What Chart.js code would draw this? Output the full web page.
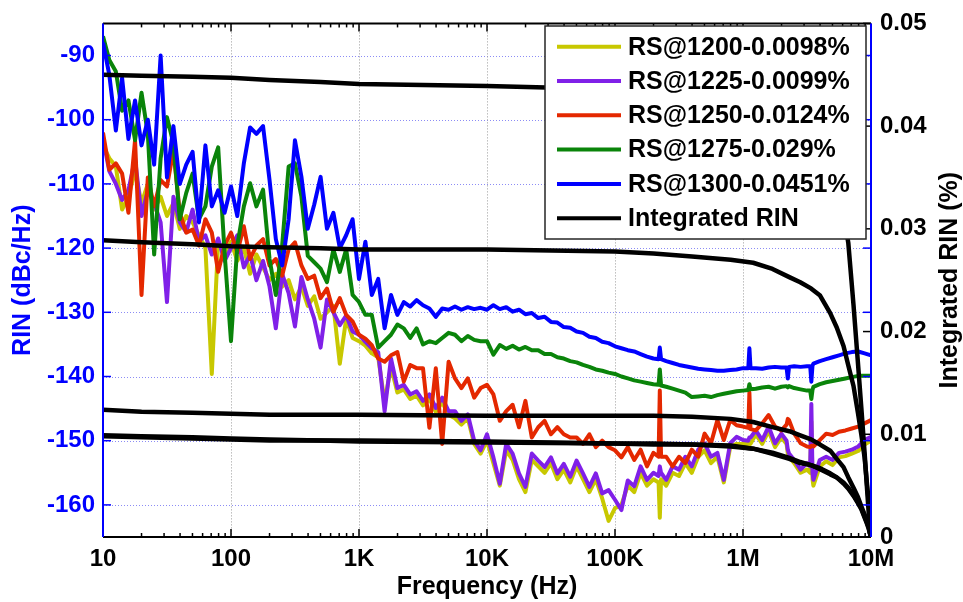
<!DOCTYPE html>
<html>
<head>
<meta charset="utf-8">
<title>RIN spectra</title>
<script src="https://cdn.jsdelivr.net/npm/chart.js@4.4.1/dist/chart.umd.min.js"></script>
<style>
  html, body { margin: 0; padding: 0; background: #fff; }
  canvas { display: block; }
</style>
</head>
<body>
<canvas id="rinChart" width="963" height="602"></canvas>
<script>
// frequency points (Hz) of the measured spectra
const freq = [
  10, 11.2, 12.6, 14.1, 15.8, 17.8, 20, 22.4, 25.1, 28.2, 31.6, 35.5, 39.8, 44.7, 50.1, 56.2, 63.1, 70.8, 79.4, 89.1,
  100, 112, 126, 141, 158, 178, 200, 224, 251, 282, 316, 355, 398, 447, 501, 562, 631, 708, 794, 891,
  1000, 1122, 1259, 1413, 1585, 1778, 1995, 2239, 2512, 2818, 3162, 3548, 3981, 4467, 5012, 5623, 6310, 7079, 7943, 8913,
  1e4, 11220, 12590, 14130, 15850, 17780, 19950, 22390, 25120, 28180, 31620, 35480, 39810, 44670, 50120, 56230, 63100, 70790, 79430, 89130,
  1e5, 112200, 125900, 141300, 158500, 177800, 199500, 219000, 223900, 229000, 251200, 281800, 316200, 354800, 398100, 446700, 501200, 562300, 631000, 707900, 794300, 891300,
  1e6, 1100000, 1122000, 1145000, 1259000, 1413000, 1585000, 1778000, 1995000, 2190000, 2239000, 2290000, 2512000, 2818000, 3162000, 3350000, 3420000, 3490000, 3548000, 3981000, 4467000, 5012000, 5623000, 6310000, 7079000, 7943000, 8913000, 1e7
];

// RIN (dBc/Hz)
const rin1200 = [
  -104, -106, -107.3, -114, -112, -108, -113, -110, -114, -112, -115, -113, -117, -115, -116, -118, -120, -139.6, -119, -121,
  -119, -122, -120, -124, -121, -123, -125, -124, -126, -125, -128, -126, -129, -127.5, -131, -130, -129, -138, -131, -134,
  -134.5, -135.2, -136.4, -137, -144, -138.5, -142.5, -142, -143.5, -143, -144.5, -143.5, -145.5, -144, -146, -146.5, -147.5, -146.5, -150.5, -152,
  -150, -153.5, -157, -151.5, -153, -156, -158, -153, -154, -155, -153.5, -156, -154.5, -156.5, -154, -156, -158, -156, -159, -162.5,
  -160.5, -160, -157, -158, -155, -157, -156, -156.5, -162, -156, -157, -155, -155.5, -153.5, -155, -152.5, -151.5, -153.5, -152.5, -156.5, -151, -150.5,
  -150.5, -150.5, -150.5, -150.5, -149, -150.5, -148.5, -151, -149.5, -150.5, -152, -152.5, -153.5, -155, -154.5, -155, -147, -156, -157, -154, -153.2, -153.8, -152.6, -152.4, -152, -151.6, -150.6, -150
];
const rin1225 = [
  -103, -108, -110, -112.5, -111, -106, -115, -111, -113, -116, -128.4, -112, -116, -117.5, -114, -119, -118, -121, -118.5, -122,
  -120, -118, -123, -121, -125, -122, -126, -132.5, -124, -127, -132.2, -124.5, -128, -131, -135.5, -128, -130, -132, -130.5, -133,
  -133.5, -134.6, -135.6, -136.2, -145.4, -137.2, -141.8, -141.3, -142.8, -142.3, -143.8, -142.8, -144.9, -143.3, -145.4, -145.4, -146.9, -145.9, -150, -151.5,
  -149, -152.6, -156.7, -150.5, -152, -155.1, -157.2, -152, -153.1, -154.1, -152.6, -155.1, -153.6, -155.6, -153.1, -155.1, -157.2, -155.1, -158.2, -157.7,
  -159.2, -160.8, -156.2, -157.1, -154, -156.1, -155, -155.5, -154, -155, -156.1, -154, -154.5, -152.5, -154, -151.4, -150.4, -152.5, -151.9, -156.1, -150.4, -149.4,
  -149.9, -150, -149.5, -149.5, -148.4, -149.9, -147.8, -150.4, -148.9, -150, -151.4, -152, -153, -154.5, -153.5, -154, -144.3, -155, -156.1, -153, -152.5, -153, -151.9, -151.7, -151.4, -150.9, -149.9, -149.4
];
const rin1250 = [
  -102, -107.8, -106.8, -108.4, -114.5, -103.2, -127.3, -109, -113.5, -109.4, -110.4, -104.8, -114.5, -117.6, -117.1, -119.6, -115.5, -117.6, -123.7, -119.6,
  -117.6, -120.7, -116.6, -121.7, -119.6, -118.6, -122.7, -121.7, -124.3, -120.2, -119.1, -122.7, -124.8, -124.3, -127.8, -126.3, -129.9, -127.8, -130.4, -131.4,
  -133.5, -134.1, -135.1, -137.2, -137.7, -136.7, -136.2, -140.8, -138.2, -138.7, -138.7, -148, -138.7, -150.5, -137.7, -140.3, -141.8, -140.3, -143.3, -141.8,
  -141.3, -142.8, -146.9, -145.4, -144.4, -147.9, -143.8, -149.5, -147.9, -146.9, -149, -147.9, -149, -149.5, -149.5, -150.5, -149, -151, -150, -151,
  -151.5, -152.6, -151, -153, -151.4, -154, -151.9, -152.5, -142.2, -152.5, -152.5, -154, -152.5, -153.5, -151.4, -152.5, -148.9, -150.4, -146.8, -149.9, -146.8, -147.6,
  -147.8, -148, -142.5, -148.2, -148.4, -147.3, -146, -147.8, -148.4, -147.5, -146.6, -146.8, -148.9, -150.4, -150.9, -151, -150.8, -150.8, -150.9, -149.9, -148.9, -149.1, -148.6, -148.4, -148.1, -147.8, -147.3, -146.8
];
const rin1275 = [
  -87, -90.7, -92.5, -98.6, -97, -103.2, -95.8, -102.2, -121, -106, -99.6, -103.7, -115.5, -111.4, -108.4, -115.5, -113.5, -107.3, -104.3, -120.7,
  -134.5, -119.6, -113.5, -109.9, -113.5, -110.9, -121.7, -127.3, -119.6, -107.3, -106.8, -112, -121.2, -122.2, -123.2, -125.3, -120.2, -123.7, -120.2, -127.3,
  -128.4, -130.4, -130.4, -135.5, -134.5, -133.5, -131.9, -132.5, -134, -132.5, -135, -134.5, -134.8, -134, -133.2, -133.5, -134.5, -133.7, -134.3, -134.5,
  -134.5, -136.6, -135.1, -135.7, -135.2, -135.8, -135.4, -135.9, -135.9, -136.5, -136.5, -137.0, -137.2, -137.6, -137.8, -138.2, -138.5, -138.9, -139.1, -139.4,
  -139.6, -140.0, -140.3, -140.6, -140.8, -141.0, -141.2, -141.3, -138.9, -141.4, -141.6, -141.9, -142.2, -142.5, -143.2, -143.1, -143.0, -143.2, -142.9, -142.7, -142.5, -142.3,
  -142.2, -142.1, -141.2, -142.0, -141.9, -141.7, -141.6, -141.9, -141.6, -141.5, -141.7, -141.5, -141.8, -142.0, -142.2, -142.2, -143.5, -142.1, -141.6, -141.2, -140.9, -140.7, -140.5, -140.3, -140.1, -139.9, -139.9, -139.9
];
const rin1300 = [
  -88, -93, -101.7, -93.5, -103, -97, -104, -100, -107, -90, -109, -101, -110, -107, -105, -116, -104, -113.5, -111, -114.5,
  -110.4, -115, -106.8, -101.2, -102.2, -101, -109.4, -118.6, -122.7, -115.5, -103.2, -108.9, -117, -113.2, -108.9, -117, -114.5, -120, -118, -115.5,
  -124.8, -119, -127.3, -124.8, -132.5, -127.3, -130.4, -128.4, -129.1, -128.1, -128.9, -129.4, -130.7, -129.4, -129.6, -129.1, -129.6, -129.2, -129.5, -129.3,
  -129.6, -128.9, -129.5, -129.2, -129.9, -129.6, -130.3, -130.1, -130.9, -130.7, -131.5, -131.6, -132.3, -132.4, -133.0, -133.2, -133.8, -134.0, -134.6, -134.8,
  -135.3, -135.6, -135.9, -136.1, -136.5, -136.9, -137.2, -137.3, -135.5, -137.3, -137.6, -137.9, -138.2, -138.4, -138.6, -138.8, -138.9, -139.0, -139.1, -139.1, -139.0, -138.9,
  -138.7, -138.7, -135.6, -138.7, -138.7, -138.8, -138.6, -138.5, -138.6, -138.6, -140.3, -138.5, -138.4, -138.5, -138.4, -138.4, -140.8, -138.3, -138.0, -137.6, -137.3, -137.0, -136.7, -136.4, -136.2, -136.1, -136.4, -136.7
];

// integrated RIN (%) from f up to 10 MHz
const intFreq = [10, 20, 50, 100, 200, 500, 1e3, 1e4, 1e5, 2e5, 4e5, 8e5, 1.2e6, 1.7e6, 2.3e6, 2.8e6, 3.4e6, 4e6, 4.8e6, 5.4e6, 6.1e6, 6.65e6, 7.3e6, 7.9e6, 8.4e6, 8.9e6, 9.3e6, 9.6e6, 9.8e6, 1e7];
const int1200 = [0.0098, 0.0097, 0.0096, 0.0095, 0.0094, 0.0094, 0.0093, 0.0092, 0.0091, 0.0090, 0.0090, 0.0088, 0.0086, 0.0081, 0.0076, 0.0072, 0.0070, 0.0066, 0.0061, 0.0058, 0.0052, 0.0047, 0.0040, 0.0033, 0.0027, 0.0019, 0.0013, 0.0008, 0.0004, 0];
const int1225 = [0.0099, 0.0098, 0.0097, 0.0096, 0.0095, 0.0094, 0.0094, 0.0093, 0.0091, 0.0091, 0.0090, 0.0089, 0.0086, 0.0082, 0.0077, 0.0073, 0.0070, 0.0067, 0.0062, 0.0058, 0.0053, 0.0048, 0.0041, 0.0034, 0.0028, 0.0020, 0.0014, 0.0009, 0.0004, 0];
const int1250 = [0.0124, 0.0122, 0.0121, 0.0120, 0.0119, 0.0119, 0.0119, 0.0118, 0.0118, 0.0118, 0.0117, 0.0115, 0.0112, 0.0107, 0.0103, 0.0099, 0.0095, 0.0090, 0.0084, 0.0076, 0.0068, 0.0058, 0.0048, 0.0039, 0.0030, 0.0022, 0.0016, 0.0011, 0.0006, 0];
const int1275 = [0.0289, 0.0287, 0.0285, 0.0283, 0.0282, 0.0281, 0.0280, 0.0280, 0.0278, 0.0276, 0.0273, 0.0270, 0.0267, 0.0261, 0.0253, 0.0248, 0.0242, 0.0235, 0.0218, 0.0204, 0.0186, 0.0167, 0.0147, 0.0121, 0.0100, 0.0078, 0.0052, 0.0034, 0.0022, 0];
const int1300 = [0.0450, 0.0449, 0.0448, 0.0447, 0.0445, 0.0443, 0.0441, 0.0439, 0.0436, 0.0435, 0.0433, 0.0429, 0.0425, 0.0418, 0.0410, 0.0402, 0.0392, 0.0380, 0.0362, 0.0345, 0.0315, 0.0286, 0.0226, 0.0170, 0.0126, 0.0083, 0.0048, 0.0023, 0.0004, 0];

const xTickVals = [10, 100, 1e3, 1e4, 1e5, 1e6, 1e7];
const xTickLabels = ["10", "100", "1K", "10K", "100K", "1M", "10M"];
const minorSteps = [2, 3, 4, 5, 6, 7, 8, 9];
const rinTicks = [-160, -150, -140, -130, -120, -110, -100, -90];
const intTicks = [0, 0.01, 0.02, 0.03, 0.04, 0.05];
const intTickLabels = ["0", "0.01", "0.02", "0.03", "0.04", "0.05"];
const rightTitle = "Integrated RIN (%)";

const spectra = [
    { label: "RS@1200-0.0098%", color: "#c8c800", rin: rin1200, integ: int1200 },
    { label: "RS@1225-0.0099%", color: "#8020e8", rin: rin1225, integ: int1225 },
    { label: "RS@1250-0.0124%", color: "#e42800", rin: rin1250, integ: int1250 },
    { label: "RS@1275-0.029%", color: "#0a840a", rin: rin1275, integ: int1275 },
    { label: "RS@1300-0.0451%", color: "#0000ff", rin: rin1300, integ: int1300 }
];
const legendItems = spectra.map(s => ({ label: s.label, color: s.color }))
    .concat([{ label: "Integrated RIN", color: "#000000" }]);

// first dataset is painted last, so the black curves come first
const datasets = [];
spectra.slice().reverse().forEach(s => {
    datasets.push({
        label: "Integrated RIN",
        data: intFreq.map((f, i) => ({ x: f, y: s.integ[i] })),
        yAxisID: "y2",
        borderColor: "#000000",
        borderWidth: 4.5
    });
});
spectra.slice().reverse().forEach(s => {
    datasets.push({
        label: s.label,
        data: freq.map((f, i) => ({ x: f, y: s.rin[i] })),
        yAxisID: "y",
        borderColor: s.color,
        borderWidth: 4
    });
});

function seg(ctx, x1, y1, x2, y2) {
    ctx.beginPath();
    ctx.moveTo(x1, y1);
    ctx.lineTo(x2, y2);
    ctx.stroke();
}

const frame = {
    id: "frame",
    beforeDatasetsDraw(chart) {
        const { ctx, chartArea: a, scales } = chart;
        ctx.save();
        ctx.lineWidth = 1;
        ctx.setLineDash([1, 2]);
        ctx.strokeStyle = "#8c8cf5";
        rinTicks.forEach(v => {
            const y = Math.round(scales.y.getPixelForValue(v)) + 0.5;
            seg(ctx, a.left, y, a.right, y);
        });
        ctx.strokeStyle = "#9a9a9a";
        xTickVals.slice(1, -1).forEach(v => {
            const x = Math.round(scales.x.getPixelForValue(v)) + 0.5;
            seg(ctx, x, a.top, x, a.bottom);
        });
        ctx.restore();
    },
    afterDatasetsDraw(chart) {
        const { ctx, chartArea: a, scales } = chart;
        ctx.save();
        ctx.lineWidth = 1.5;
        ctx.strokeStyle = "#000";
        // inward ticks on bottom and top
        xTickVals.forEach((d, k) => {
            const steps = k < xTickVals.length - 1 ? [1].concat(minorSteps) : [1];
            steps.forEach(m => {
                const x = scales.x.getPixelForValue(d * m);
                const len = m === 1 ? 8 : 4;
                seg(ctx, x, a.bottom, x, a.bottom - len);
                seg(ctx, x, a.top, x, a.top + len);
            });
        });
        ctx.strokeStyle = "#0000ff";
        rinTicks.forEach(v => {
            const y = scales.y.getPixelForValue(v);
            seg(ctx, a.left, y, a.left + 8, y);
            seg(ctx, a.right, y, a.right - 8, y);
        });
        ctx.strokeStyle = "#000";
        intTicks.forEach(v => {
            const y = scales.y2.getPixelForValue(v);
            seg(ctx, a.right, y, a.right - 8, y);
        });
        // box
        ctx.lineWidth = 2;
        seg(ctx, a.left, a.top, a.right, a.top);
        seg(ctx, a.left, a.bottom, a.right, a.bottom);
        ctx.strokeStyle = "#0000ff";
        seg(ctx, a.left, a.top, a.left, a.bottom);
        seg(ctx, a.right, a.top, a.right, a.bottom);
        ctx.restore();
    },
    afterDraw(chart) {
        const { ctx, chartArea: a } = chart;
        ctx.save();
        ctx.font = "bold 25px 'Liberation Sans', Arial, sans-serif";
        ctx.fillStyle = "#000";
        ctx.textAlign = "center";
        ctx.textBaseline = "middle";
        ctx.translate(950, (a.top + a.bottom) / 2);
        ctx.rotate(-Math.PI / 2);
        ctx.fillText(rightTitle, 0, 0);
        ctx.restore();

        // legend
        ctx.save();
        ctx.fillStyle = "#fff";
        ctx.fillRect(545, 26, 321, 213);
        ctx.lineWidth = 1.5;
        ctx.strokeStyle = "#262626";
        ctx.strokeRect(545, 26, 321, 213);
        ctx.font = "bold 25px 'Liberation Sans', Arial, sans-serif";
        ctx.textAlign = "left";
        ctx.textBaseline = "middle";
        legendItems.forEach((it, i) => {
            const y = 46.7 + i * 34.3;
            ctx.strokeStyle = it.color;
            ctx.lineWidth = 4;
            seg(ctx, 557, y, 621, y);
            ctx.fillStyle = "#000";
            ctx.fillText(it.label, 628, y + 1);
        });
        ctx.restore();
    }
};

Chart.defaults.font.family = "'Liberation Sans', Arial, sans-serif";
Chart.defaults.font.size = 24;
Chart.defaults.font.weight = "bold";
Chart.defaults.color = "#000";

const ctx = document.getElementById("rinChart").getContext("2d");
new Chart(ctx, {
    type: "line",
    data: { datasets: datasets },
    plugins: [frame],
    options: {
        responsive: false,
        devicePixelRatio: 1,
        animation: false,
        events: [],
        layout: { padding: { top: 18, left: 0, right: 0, bottom: 0 } },
        elements: {
            point: { radius: 0 },
            line: { tension: 0, borderJoinStyle: "round", borderCapStyle: "butt" }
        },
        plugins: { legend: { display: false }, tooltip: { enabled: false } },
        scales: {
            x: {
                type: "logarithmic",
                min: 10,
                max: 1e7,
                afterBuildTicks: s => { s.ticks = xTickVals.map(v => ({ value: v })); },
                afterFit: s => { s.height = 65; },
                grid: { display: false, drawTicks: false },
                border: { display: false },
                ticks: {
                    autoSkip: false,
                    maxRotation: 0,
                    padding: 8,
                    color: "#000",
                    callback: (v, i) => xTickLabels[i]
                },
                title: {
                    display: true,
                    text: "Frequency (Hz)",
                    color: "#000",
                    font: { size: 25, weight: "bold" },
                    padding: { top: 0, bottom: 0 }
                }
            },
            y: {
                type: "linear",
                position: "left",
                min: -165,
                max: -85,
                afterBuildTicks: s => { s.ticks = rinTicks.map(v => ({ value: v })); },
                afterFit: s => { s.width = 103; },
                grid: { display: false, drawTicks: false },
                border: { display: false },
                ticks: { padding: 8, color: "#0000ff" },
                title: {
                    display: true,
                    text: "RIN (dBc/Hz)",
                    color: "#0000ff",
                    font: { size: 25, weight: "bold" },
                    padding: { top: 8, bottom: 0 }
                }
            },
            y2: {
                type: "linear",
                position: "right",
                min: 0,
                max: 0.05,
                afterBuildTicks: s => { s.ticks = intTicks.map(v => ({ value: v })); },
                afterFit: s => { s.width = 92; },
                grid: { display: false, drawTicks: false },
                border: { display: false },
                ticks: { padding: 9, color: "#000", callback: (v, i) => intTickLabels[i] }
            }
        }
    }
});
</script>
</body>
</html>
